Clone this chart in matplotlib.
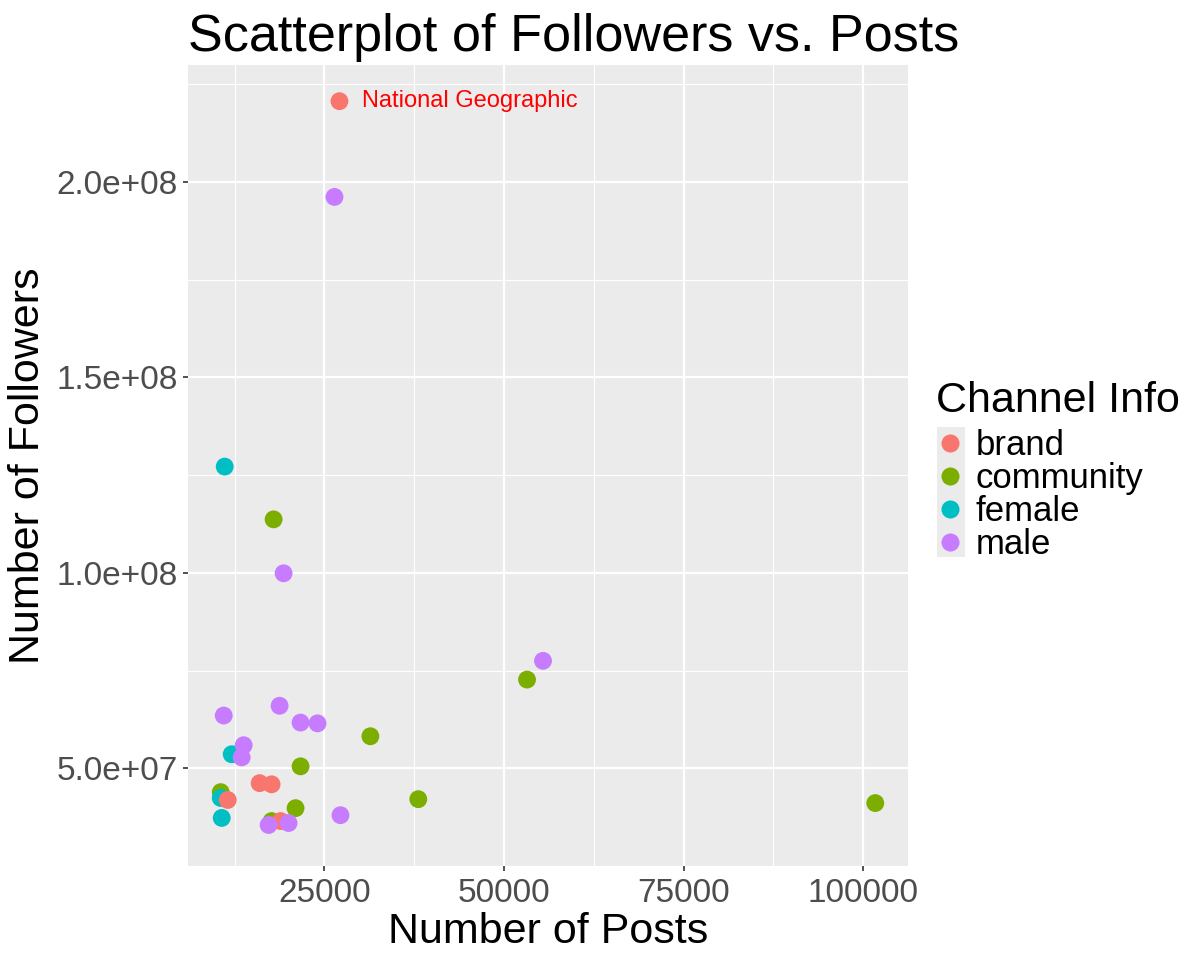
import numpy as np
import pandas as pd
import matplotlib
matplotlib.use('Agg')
import matplotlib.pyplot as plt
from matplotlib.lines import Line2D
from matplotlib.patches import Rectangle

plt.rcParams['font.family'] = ['Liberation Sans', 'DejaVu Sans']

# data (draw order matters for overlaps)
posts = [27083, 26389, 11111, 17917, 19306, 55417, 53194, 10972, 18750, 21667,
         24028, 31389, 12083, 13750, 13472, 21667, 15972, 17639, 10556, 10556,
         11528, 20972, 10694, 27222, 17639, 18889, 17222, 20000, 38056, 101667]
followers = [2.207e8, 1.962e8, 1.272e8, 1.137e8, 0.999e8, 7.75e7, 7.27e7, 6.35e7, 6.60e7, 6.17e7,
             6.15e7, 5.82e7, 5.36e7, 5.59e7, 5.28e7, 5.05e7, 4.62e7, 4.59e7, 4.39e7, 4.24e7,
             4.19e7, 3.98e7, 3.73e7, 3.80e7, 3.65e7, 3.65e7, 3.55e7, 3.60e7, 4.21e7, 4.11e7]
channel = ['brand', 'male', 'female', 'community', 'male', 'male', 'community', 'male', 'male', 'male',
           'male', 'community', 'female', 'male', 'male', 'community', 'brand', 'brand', 'community', 'female',
           'brand', 'community', 'female', 'male', 'community', 'brand', 'male', 'male', 'community', 'community']

categories = ['brand', 'community', 'female', 'male']
palette = {'brand': '#F8766D', 'community': '#7CAE00', 'female': '#00BFC4', 'male': '#C77CFF'}

df = pd.DataFrame({'Posts': posts, 'Followers': followers, 'Channel': channel})

fig = plt.figure(figsize=(12, 9.6), dpi=100)
ax = fig.add_axes([188/1200, 1-866/960, 720/1200, 801/960])
ax.set_facecolor('#EBEBEB')

ax.scatter(df['Posts'], df['Followers'], c=df['Channel'].map(palette), s=165,
           linewidths=0, zorder=3)

# National Geographic label
top = df.loc[df['Followers'].idxmax()]
ax.annotate('National Geographic', xy=(top['Posts'], top['Followers']),
            xytext=(16.5, 0), textcoords='offset points', color='#FF0000',
            fontsize=17, va='center', ha='left', zorder=4)

# ggplot-like expansion
xr = df['Posts'].max() - df['Posts'].min()
yr = df['Followers'].max() - df['Followers'].min()
ax.set_xlim(df['Posts'].min() - 0.05*xr, df['Posts'].max() + 0.05*xr)
ax.set_ylim(df['Followers'].min() - 0.05*yr, df['Followers'].max() + 0.05*yr)

xticks = [25000, 50000, 75000, 100000]
yticks = [5e7, 1e8, 1.5e8, 2e8]
ytick_labels = ['5.0e+07', '1.0e+08', '1.5e+08', '2.0e+08']
ax.set_xticks(xticks)
ax.set_xticklabels([str(t) for t in xticks])
ax.set_yticks(yticks)
ax.set_yticklabels(ytick_labels)
ax.set_xticks([12500, 37500, 62500, 87500], minor=True)
ax.set_yticks([2.5e7, 7.5e7, 1.25e8, 1.75e8, 2.25e8], minor=True)

ax.grid(which='major', color='white', linewidth=1.6, zorder=0)
ax.grid(which='minor', color='white', linewidth=0.8, zorder=0)
ax.set_axisbelow(True)
for s in ax.spines.values():
    s.set_visible(False)
ax.tick_params(which='major', length=3.5, width=1.2, color='#333333',
               labelsize=24, labelcolor='#4D4D4D', pad=4)
ax.tick_params(axis='x', pad=5)
ax.tick_params(which='minor', length=0)

ax.set_xlabel('Number of Posts', fontsize=31, labelpad=2)
ax.set_ylabel('Number of Followers', fontsize=31, labelpad=6)
ax.set_title('Scatterplot of Followers vs. Posts', fontsize=37.5, loc='left', pad=10)

# legend
handles = [Line2D([], [], marker='o', linestyle='', markersize=13,
                  markerfacecolor=palette[c], markeredgewidth=0) for c in categories]
fig.patches.append(Rectangle((937/1200, 1-557/960), 28/1200, 130/960,
                             transform=fig.transFigure, facecolor='#EBEBEB',
                             edgecolor='none', zorder=0))
fig.text(936/1200, 1-401/960, 'Channel Info', fontsize=31, ha='left', va='center')
leg = fig.legend(handles, categories, loc='upper left',
                 bbox_to_anchor=(934/1200, 1-429/960), frameon=False,
                 fontsize=25, labelspacing=0.0,
                 handlelength=0.9, handletextpad=0.3, borderaxespad=0,
                 borderpad=0)

fig.savefig('out.png', dpi=100)
